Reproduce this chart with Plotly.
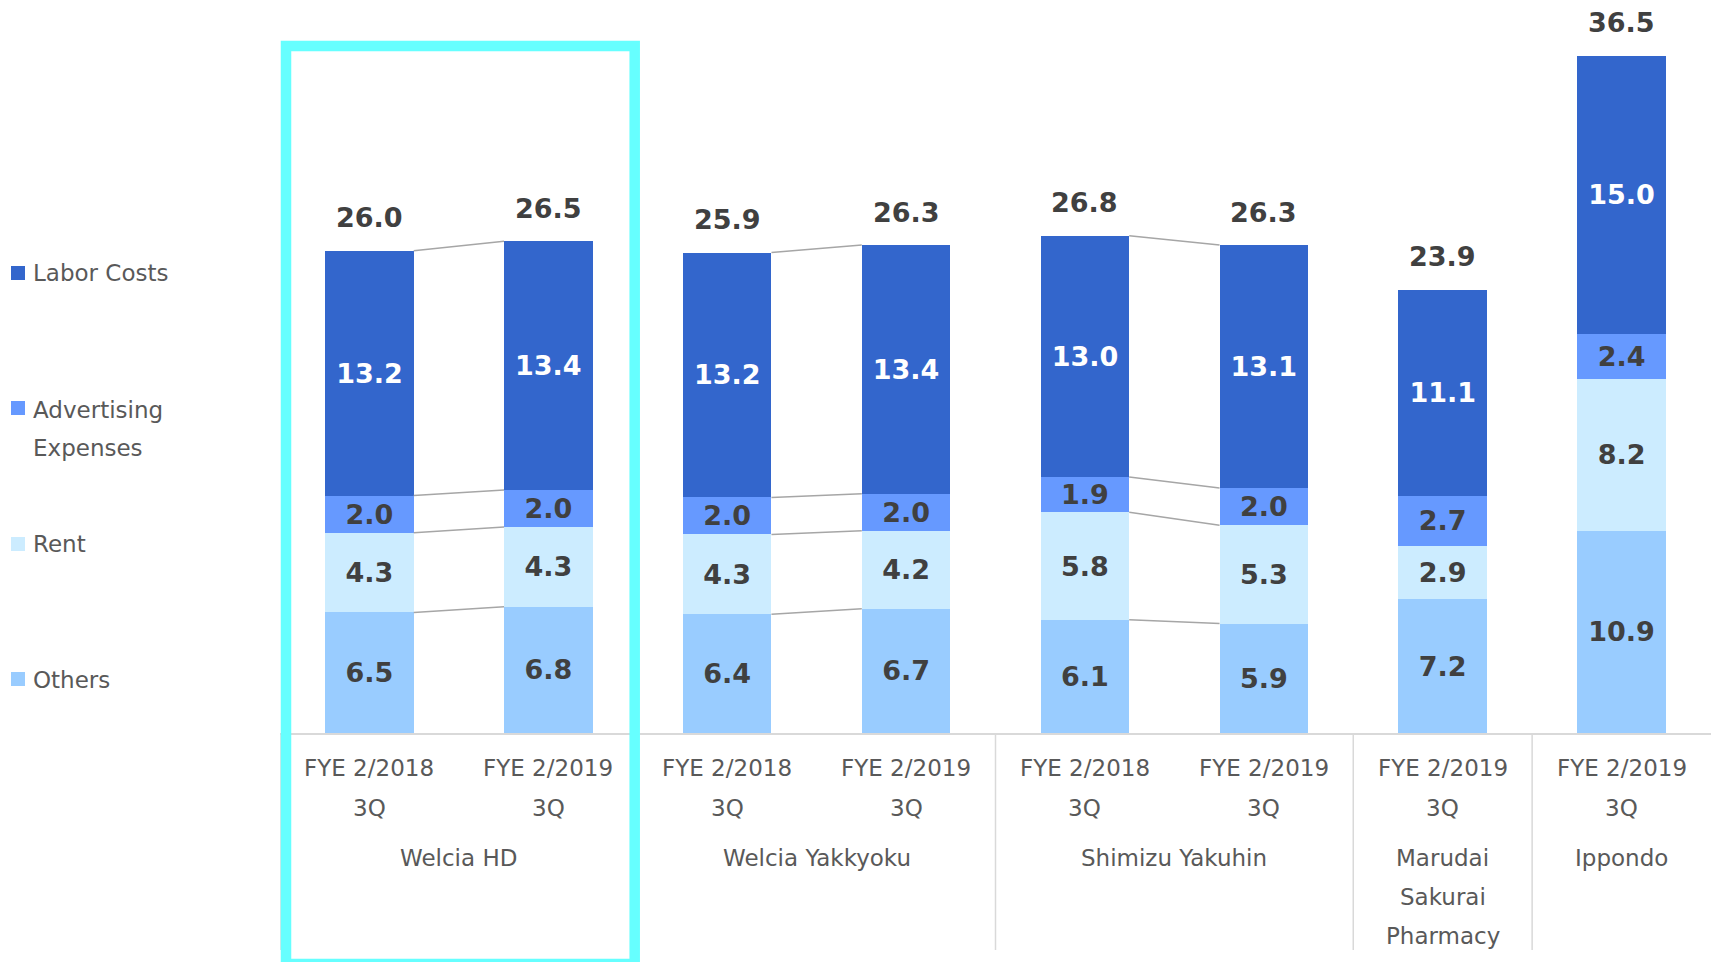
import plotly.graph_objects as go

# ---- data ----
companies = ["Welcia HD", "Welcia HD", "Welcia Yakkyoku", "Welcia Yakkyoku",
             "Shimizu Yakuhin", "Shimizu Yakuhin", "Marudai Sakurai Pharmacy", "Ippondo"]
periods = ["FYE 2/2018", "FYE 2/2019", "FYE 2/2018", "FYE 2/2019",
           "FYE 2/2018", "FYE 2/2019", "FYE 2/2019", "FYE 2/2019"]
quarter = ["3Q"] * 8
others = [6.5, 6.8, 6.4, 6.7, 6.1, 5.9, 7.2, 10.9]
rent = [4.3, 4.3, 4.3, 4.2, 5.8, 5.3, 2.9, 8.2]
advertising = [2.0, 2.0, 2.0, 2.0, 1.9, 2.0, 2.7, 2.4]
labor = [13.2, 13.4, 13.2, 13.4, 13.0, 13.1, 11.1, 15.0]
totals = [26.0, 26.5, 25.9, 26.3, 26.8, 26.3, 23.9, 36.5]
group_names = [["Welcia HD"], ["Welcia Yakkyoku"], ["Shimizu Yakuhin"],
               ["Marudai", "Sakurai", "Pharmacy"], ["Ippondo"]]
group_centers = [0.5, 2.5, 4.5, 6, 7]
group_bounds = [-0.5, 1.5, 3.5, 5.5, 6.5]
connected_pairs = [(0, 1), (2, 3), (4, 5)]

series = [
    ("Others", others, "#99CCFF", "#404040"),
    ("Rent", rent, "#CCECFF", "#404040"),
    ("Advertising<br>Expenses", advertising, "#6699FF", "#404040"),
    ("Labor Costs", labor, "#3366CC", "#FFFFFF"),
]

# ---- layout constants ----
W, H = 1711, 962
ML, MT, MB = 280, 0, 229
PH = H - MT - MB
YMAX = 39.51
BARW = 0.495
FONT = "DejaVu Sans"
GRAY_TXT = "#595959"
DARK = "#404040"

x = list(range(len(periods)))
fig = go.Figure()

for name, vals, color, tcolor in series:
    fig.add_trace(go.Bar(
        x=x, y=vals, name=name, width=BARW,
        marker=dict(color=color, line=dict(width=0)),
        text=[f"<b>{v:.1f}</b>" for v in vals],
        textposition="inside", insidetextanchor="middle",
        textfont=dict(family=FONT, size=27, color=tcolor),
        showlegend=False, hoverinfo="skip",
    ))

# connector lines between paired bars
cx, cy = [], []
for a, b in connected_pairs:
    ca = cb = 0.0
    for _, vals, _, _ in series:
        ca += vals[a]
        cb += vals[b]
        cx += [a + BARW / 2, b - BARW / 2, None]
        cy += [ca, cb, None]
fig.add_trace(go.Scatter(x=cx, y=cy, mode="lines",
                         line=dict(color="#A6A6A6", width=1.5),
                         showlegend=False, hoverinfo="skip"))

ann = []
# totals
for i, t in enumerate(totals):
    ann.append(dict(x=i, y=t, xref="x", yref="y", yshift=33, showarrow=False,
                    text=f"<b>{t:.1f}</b>", yanchor="middle",
                    font=dict(family=FONT, size=27, color=DARK)))

def ypaper(px):
    return (PH + MT - px) / PH

# category labels
for i in x:
    ann.append(dict(x=i, y=ypaper(768), xref="x", yref="paper", showarrow=False,
                    text=periods[i], yanchor="middle",
                    font=dict(family=FONT, size=23, color=GRAY_TXT)))
    ann.append(dict(x=i, y=ypaper(808), xref="x", yref="paper", showarrow=False,
                    text=quarter[i], yanchor="middle",
                    font=dict(family=FONT, size=23, color=GRAY_TXT)))
for lines, c in zip(group_names, group_centers):
    for k, ln in enumerate(lines):
        ann.append(dict(x=c, y=ypaper(858 + 39 * k), xref="x", yref="paper",
                        showarrow=False, text=ln, yanchor="middle",
                        font=dict(family=FONT, size=23, color=GRAY_TXT)))

# legend (custom)
PW = W - ML
def xpaper(px):
    return (px - ML) / PW

legend_items = [("Labor Costs", "#3366CC", 273, [273]),
                ("Advertising", "#6699FF", 408, [410, 448]),
                ("Rent", "#CCECFF", 544, [544]),
                ("Others", "#99CCFF", 679, [680])]
legend_texts = {"Advertising": ["Advertising", "Expenses"]}
shapes = []
for name, color, sq_y, text_ys in legend_items:
    shapes.append(dict(type="rect", xref="paper", yref="paper",
                       x0=xpaper(11), x1=xpaper(25),
                       y0=ypaper(sq_y + 7), y1=ypaper(sq_y - 7),
                       fillcolor=color, line=dict(width=0)))
    texts = legend_texts.get(name, [name])
    for t, ty in zip(texts, text_ys):
        ann.append(dict(x=xpaper(31), y=ypaper(ty), xref="paper", yref="paper",
                        showarrow=False, text=t, xanchor="left", yanchor="middle",
                        font=dict(family=FONT, size=23, color=GRAY_TXT)))

# group dividers
for gb in group_bounds:
    shapes.append(dict(type="line", xref="x", yref="paper", x0=gb, x1=gb,
                       y0=0, y1=ypaper(950), line=dict(color="#D9D9D9", width=1.5)))

# highlight box
shapes.append(dict(type="rect", xref="x", yref="paper",
                   x0=-0.5 + (286 - ML) / (PW / 8), x1=-0.5 + (634.7 - ML) / (PW / 8),
                   y0=ypaper(964), y1=ypaper(46),
                   line=dict(color="#66FFFF", width=10.5), fillcolor="rgba(0,0,0,0)",
                   layer="above"))

fig.update_layout(
    width=W, height=H, barmode="stack",
    margin=dict(l=ML, r=0, t=MT, b=MB, pad=0),
    paper_bgcolor="white", plot_bgcolor="white",
    xaxis=dict(range=[-0.5, 7.5], showticklabels=False, ticks="", showgrid=False,
               zeroline=False, showline=True, linecolor="#D9D9D9", linewidth=2,
               fixedrange=True),
    yaxis=dict(range=[0, YMAX], visible=False, showgrid=False, zeroline=False,
               fixedrange=True),
    uniformtext=dict(minsize=27, mode="show"),
    annotations=ann, shapes=shapes, hovermode=False, showlegend=False,
)

fig.write_html("out.html", config={"displayModeBar": False},
               post_script="document.body.style.margin='0';document.body.style.overflow='hidden';")
